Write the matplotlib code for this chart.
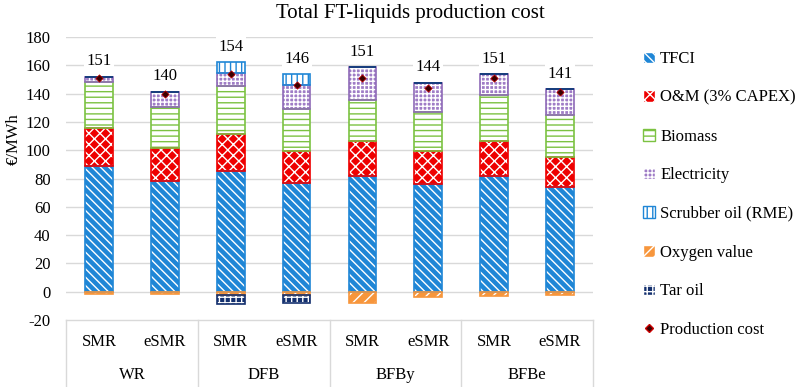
import numpy as np
import matplotlib
matplotlib.use('Agg')
import matplotlib.pyplot as plt
from matplotlib.patches import Patch
from matplotlib.lines import Line2D
from matplotlib import rcParams

rcParams['font.family'] = ['Liberation Serif', 'DejaVu Serif']
rcParams['hatch.linewidth'] = 1.0
rcParams['axes.unicode_minus'] = False

# data (EUR/MWh)
groups = ['WR', 'DFB', 'BFBy', 'BFBe']
subs = ['SMR', 'eSMR']
tfci = [89.2, 78.3, 85.4, 76.7, 81.8, 76.2, 82.1, 73.8]
om = [26.8, 23.6, 25.9, 23.1, 24.8, 23.3, 24.5, 21.7]
biomass = [32.6, 28.5, 34.5, 29.4, 29.0, 27.9, 32.3, 29.7]
electricity = [3.5, 11.0, 8.7, 17.0, 23.1, 20.5, 15.0, 18.0]
scrubber = [0, 0, 7.8, 7.6, 0, 0, 0, 0]
oxygen = [-1.4, -1.4, -2.2, -2.4, -7.8, -3.5, -3.1, -2.6]
tar_oil = [0, 0, -6.5, -5.4, 0, 0, 0, 0]
production_cost = [151, 140, 154, 146, 151, 144, 151, 141]

# (label, values, face, hatch colour, hatch, edge)
series = [
    ('TFCI', tfci, '#1f86d6', 'white', '\\\\\\\\', '#1f86d6'),
    ('O&M (3% CAPEX)', om, '#ee0000', 'white', 'xxx', '#ee0000'),
    ('Biomass', biomass, 'white', '#7cc242', '---', '#7cc242'),
    ('Electricity', electricity, '#9f7cc6', 'white', '++++', '#8f6bb8'),
    ('Scrubber oil (RME)', scrubber, 'white', '#1f86d6', '|||', '#1f86d6'),
    ('Oxygen value', oxygen, '#f7963c', 'white', '///', '#f7963c'),
    ('Tar oil', tar_oil, '#14306e', 'white', '+++', '#14306e'),
]

fig = plt.figure(figsize=(8.09, 3.87), dpi=100)
ax = fig.add_axes([0.0816, 0.173, 0.6514, 0.731])

x = np.arange(len(tfci))
w = 0.42
pos_base = np.zeros(len(x))
neg_base = np.zeros(len(x))
for label, vals, face, hcol, hatch, edge in series:
    vals = np.array(vals, dtype=float)
    base = np.where(vals >= 0, pos_base, neg_base)
    ax.bar(x, vals, w, bottom=base, color=face, linewidth=0, zorder=2)
    ax.bar(x, vals, w, bottom=base, fill=False, edgecolor=hcol, hatch=hatch,
           linewidth=0, zorder=3)
    ax.bar(x, vals, w, bottom=base, fill=False, edgecolor=edge, linewidth=1.2,
           zorder=4)
    pos_base += np.where(vals >= 0, vals, 0)
    neg_base += np.where(vals < 0, vals, 0)

ax.scatter(x, production_cost, marker='D', s=14, color='#3a0000',
           edgecolor='#cc0000', linewidth=0.5, zorder=6)

for xi, top, v in zip(x, pos_base, production_cost):
    ax.annotate(str(v), (xi, top), xytext=(0, 11), textcoords='offset points',
                ha='center', va='center', fontsize=12, zorder=7,
                bbox=dict(boxstyle='square,pad=0.15', fc='white', ec='none'))

ax.set_xlim(-0.5, len(x) - 0.5)
ax.set_ylim(-20, 180)
ax.set_yticks(np.arange(-20, 181, 20))
ax.tick_params(axis='y', length=0, labelsize=12, pad=11)
ax.set_xticks([])
for yv in range(0, 181, 20):
    ax.axhline(yv, color='#d9d9d9', linewidth=1, zorder=1)
for s in ['left', 'right', 'top']:
    ax.spines[s].set_visible(False)
ax.spines['bottom'].set_color('#d9d9d9')
ax.spines['bottom'].set_linewidth(1)

# two-level category axis
trans = ax.get_xaxis_transform()
for sx in np.arange(-0.5, len(x), 2):
    ax.plot([sx, sx], [0, -0.24], color='#d9d9d9', linewidth=1,
            transform=trans, clip_on=False)
for i, xi in enumerate(x):
    ax.text(xi, -0.078, subs[i % 2], transform=trans, ha='center',
            va='center', fontsize=12)
for g, name in enumerate(groups):
    ax.text(2 * g + 0.5, -0.194, name, transform=trans, ha='center',
            va='center', fontsize=12)

fig.text(0.507, 0.966, 'Total FT-liquids production cost', ha='center',
         va='center', fontsize=15)
fig.text(0.017, 0.64, '€/MWh', rotation=90, ha='center', va='center',
         fontsize=12)

handles = [Patch(facecolor=f, edgecolor=(h if f == 'white' else 'white'),
                 hatch=ht) for _, _, f, h, ht, _ in series]
handles.append(Line2D([], [], marker='D', color='#3a0000',
                      markeredgecolor='#cc0000', markersize=4, linestyle=''))
labels = [s[0] for s in series] + ['Production cost']
fig.legend(handles, labels, loc='upper left', bbox_to_anchor=(0.787, 0.885),
           frameon=False, fontsize=12, handlelength=0.7, handleheight=0.7,
           handletextpad=0.3, labelspacing=1.36, borderaxespad=0)

fig.savefig('out.png', dpi=100)
